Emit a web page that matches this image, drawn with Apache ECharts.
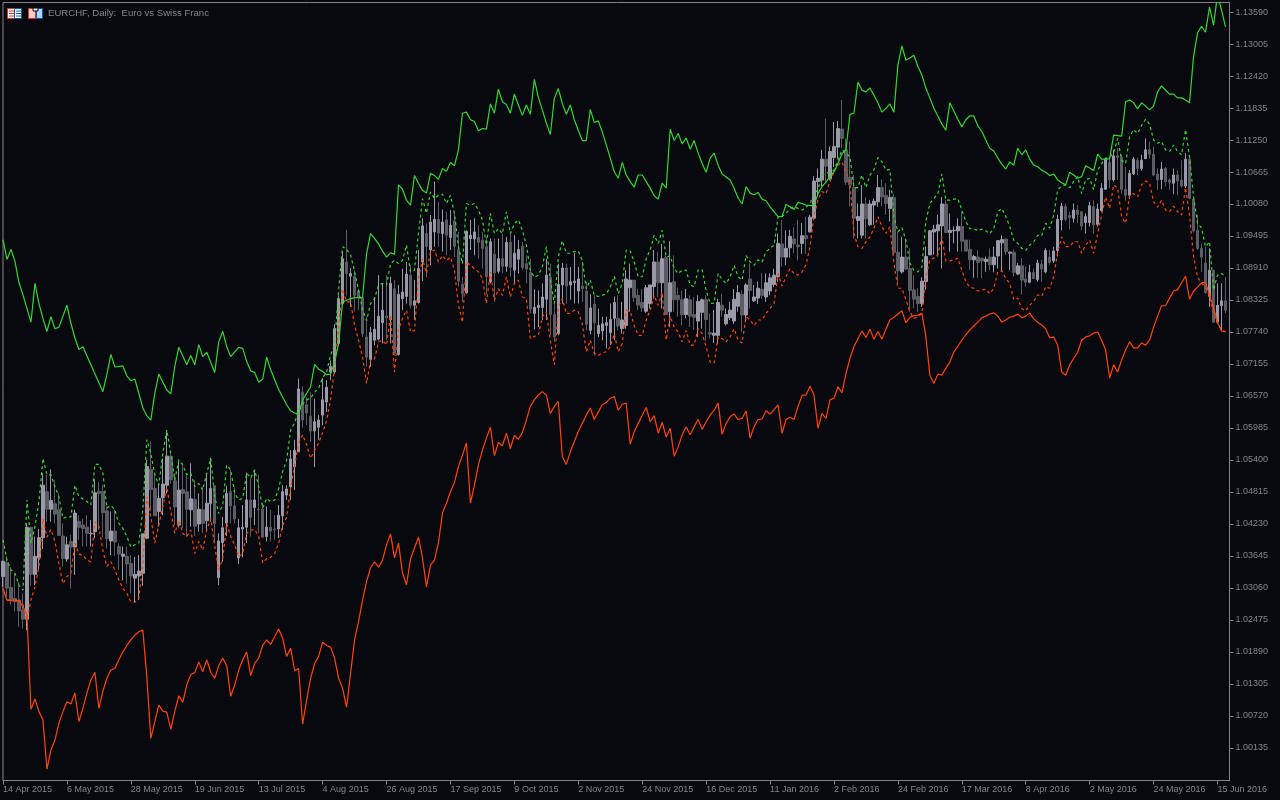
<!DOCTYPE html>
<html lang="en">
<head>
<meta charset="UTF-8">
<title>EURCHF, Daily</title>
<script src="https://cdn.jsdelivr.net/npm/echarts@6/dist/echarts.min.js"></script>
<style>html,body{margin:0;background:#08090f}</style>
</head>
<body>
<div id="container" style="width:1280px;height:800px"></div>
<script type="text/javascript">
// all prices in 1/10000 of a franc, bar by bar
const dateTicks = ['14 Apr 2015','6 May 2015','28 May 2015','19 Jun 2015','13 Jul 2015','4 Aug 2015','26 Aug 2015','17 Sep 2015','9 Oct 2015','2 Nov 2015','24 Nov 2015','16 Dec 2015','11 Jan 2016','2 Feb 2016','24 Feb 2016','17 Mar 2016','8 Apr 2016','2 May 2016','24 May 2016','15 Jun 2016'];
const priceTicks = [1.1359,1.13005,1.1242,1.11835,1.1125,1.10665,1.1008,1.09495,1.0891,1.08325,1.0774,1.07155,1.0657,1.05985,1.054,1.04815,1.0423,1.03645,1.0306,1.02475,1.0189,1.01305,1.0072,1.00135];

// open, close, low, high
const ohlc = [
[10327,10355,10308,10355],[10353,10306,10290,10364],[10307,10284,10275,10344],[10287,10281,10263,10333],[10284,10264,10235,10317],[10266,10249,10232,10296],[10249,10417,10229,10424],[10417,10331,10310,10418],[10331,10364,10311,10400],[10361,10398,10339,10414],
[10398,10494,10377,10516],[10482,10450,10427,10513],[10450,10466,10427,10523],[10460,10441,10424,10504],[10449,10402,10401,10479],[10401,10360,10345,10424],[10359,10385,10354,10400],[10391,10381,10305,10403],[10381,10443,10330,10449],[10428,10417,10394,10439],
[10421,10415,10382,10433],[10417,10406,10382,10439],[10405,10406,10382,10430],[10409,10480,10397,10505],[10483,10479,10412,10500],[10482,10444,10399,10494],[10447,10396,10378,10455],[10392,10410,10366,10446],[10410,10390,10365,10449],[10382,10368,10339,10388],
[10364,10368,10320,10382],[10364,10350,10314,10382],[10351,10328,10296,10366],[10324,10331,10280,10363],[10328,10337,10284,10366],[10333,10405,10310,10405],[10397,10528,10395,10540],[10523,10486,10446,10574],[10488,10438,10438,10516],[10446,10470,10418,10497],
[10471,10496,10439,10543],[10494,10547,10479,10592],[10547,10504,10497,10552],[10502,10454,10421,10516],[10421,10485,10417,10541],[10486,10479,10415,10534],[10482,10450,10399,10516],[10449,10469,10418,10534],[10468,10419,10401,10504],[10423,10450,10409,10479],
[10449,10424,10406,10491],[10429,10461,10412,10516],[10460,10488,10427,10544],[10493,10424,10388,10494],[10325,10392,10311,10406],[10389,10416,10354,10436],[10425,10479,10401,10493],[10482,10456,10424,10522],[10456,10432,10424,10491],[10361,10416,10350,10432],
[10414,10417,10362,10458],[10417,10467,10388,10517],[10467,10435,10400,10507],[10453,10467,10421,10522],[10450,10449,10406,10513],[10450,10399,10397,10461],[10400,10417,10391,10455],[10417,10410,10391,10449],[10414,10413,10394,10439],[10414,10439,10397,10458],
[10438,10482,10412,10494],[10476,10487,10467,10494],[10491,10542,10467,10558],[10528,10558,10485,10577],[10555,10670,10555,10689],[10664,10613,10599,10675],[10641,10626,10604,10655],[10620,10593,10573,10664],[10593,10610,10527,10652],[10600,10613,10577,10622],
[10622,10650,10604,10690],[10646,10673,10628,10686],[10701,10711,10686,10722],[10701,10780,10698,10788],[10753,10835,10750,10841],[10826,10908,10823,10921],[10902,10881,10841,10961],[10876,10881,10820,10891],[10876,10841,10811,10887],[10849,10838,10814,10853],
[10837,10771,10765,10838],[10765,10728,10710,10802],[10724,10773,10710,10783],[10759,10779,10750,10838],[10761,10803,10759,10878],[10791,10814,10753,10863],[10803,10800,10759,10878],[10796,10863,10753,10875],[10853,10735,10731,10869],[10733,10843,10731,10860],
[10835,10847,10814,10890],[10839,10880,10826,10902],[10878,10823,10817,10896],[10823,10831,10796,10869],[10828,10890,10826,10924],[10902,10968,10867,10982],[10954,10930,10874,10972],[10924,10975,10896,10988],[10957,10980,10930,11049],[10980,10955,10930,11012],
[10954,10975,10921,10998],[10979,10951,10914,10994],[10947,10969,10924,10997],[10977,10931,10911,10994],[10925,10867,10857,10957],[10861,10844,10829,10875],[10846,10958,10844,10960],[10945,10951,10924,10979],[10944,10957,10914,10982],[10947,10938,10908,10969],
[10942,10927,10890,10957],[10930,10875,10844,10948],[10866,10939,10863,10945],[10916,10882,10829,10945],[10885,10908,10881,10945],[10908,10894,10881,10954],[10894,10938,10884,10948],[10938,10892,10875,10954],[10887,10918,10863,10951],[10907,10925,10881,10942],
[10931,10892,10887,10939],[10899,10889,10863,10914],[10883,10816,10808,10908],[10808,10819,10779,10852],[10819,10823,10783,10850],[10819,10838,10796,10863],[10834,10878,10796,10908],[10874,10806,10768,10899],[10806,10765,10756,10826],[10771,10861,10768,10899],
[10860,10891,10826,10900],[10891,10858,10826,10899],[10860,10866,10833,10893],[10864,10867,10826,10918],[10849,10871,10826,10893],[10858,10853,10829,10902],[10849,10788,10777,10866],[10777,10818,10770,10843],[10825,10791,10731,10841],[10771,10786,10765,10817],
[10776,10789,10759,10802],[10786,10791,10744,10802],[10773,10797,10750,10826],[10799,10828,10759,10839],[10799,10785,10777,10841],[10780,10796,10771,10829],[10786,10871,10780,10887],[10855,10869,10811,10899],[10869,10837,10829,10869],[10841,10823,10814,10853],
[10828,10818,10811,10853],[10812,10855,10809,10860],[10826,10860,10817,10860],[10857,10902,10835,10924],[10902,10864,10838,10921],[10864,10908,10817,10935],[10910,10806,10805,10914],[10811,10864,10783,10940],[10866,10833,10811,10914],[10841,10833,10802,10855],
[10833,10806,10786,10850],[10806,10835,10799,10853],[10833,10803,10783,10841],[10806,10801,10778,10838],[10794,10830,10765,10841],[10810,10833,10780,10835],[10833,10797,10758,10841],[10773,10770,10762,10808],[10768,10772,10754,10814],[10768,10828,10753,10835],
[10823,10814,10802,10844],[10789,10806,10786,10817],[10800,10814,10796,10829],[10794,10834,10789,10853],[10821,10846,10811,10860],[10843,10805,10774,10850],[10805,10860,10792,10863],[10871,10850,10817,10899],[10831,10838,10829,10860],[10836,10854,10825,10866],
[10852,10841,10835,10882],[10838,10864,10829,10881],[10849,10873,10841,10881],[10861,10878,10856,10890],[10875,10936,10866,10954],[10935,10911,10893,10979],[10911,10927,10896,10960],[10928,10949,10910,10961],[10944,10935,10918,10966],[10933,10930,10905,10979],
[10936,10950,10917,10973],[10950,10945,10917,10985],[10957,10984,10956,10988],[10982,11050,10979,11059],[11049,11055,11024,11073],[11052,11090,11041,11107],[11090,11077,11046,11164],[11054,11104,11052,11113],[11093,11113,11076,11158],[11112,11146,11091,11160],
[11145,11128,11110,11198],[11107,11048,11043,11128],[11057,11043,11003,11122],[11038,10982,10945,11061],[10978,10985,10945,11009],[10951,11008,10945,11043],[11008,10981,10945,11020],[10970,11008,10968,11015],[11006,11013,10970,11018],[11012,11038,11003,11061],
[11038,11021,11004,11053],[11024,11009,10988,11046],[11000,11020,10976,11034],[11020,10919,10915,11026],[10920,10886,10864,10957],[10884,10911,10881,10948],[10911,10889,10887,10945],[10890,10850,10811,10927],[10851,10834,10817,10878],[10839,10826,10811,10854],
[10826,10867,10820,10874],[10866,10912,10851,10930],[10915,10959,10915,10960],[10957,10962,10915,10970],[10959,10970,10912,10988],[10968,11008,10890,11021],[11008,10956,10956,11015],[10956,10960,10921,10991],[10959,10960,10936,10967],[10959,10967,10921,10982],
[10967,10940,10921,10994],[10942,10922,10921,10942],[10925,10906,10887,10943],[10906,10912,10873,10915],[10911,10901,10873,10924],[10909,10904,10872,10909],[10903,10907,10884,10912],[10911,10897,10887,10927],[10897,10911,10883,10930],[10913,10941,10890,10942],
[10937,10943,10884,10951],[10944,10921,10915,10945],[10918,10920,10887,10921],[10920,10883,10875,10925],[10880,10895,10878,10900],[10895,10869,10842,10909],[10871,10865,10857,10894],[10865,10883,10863,10897],[10883,10872,10871,10890],[10870,10900,10866,10906],
[10898,10889,10866,10906],[10884,10923,10881,10927],[10911,10901,10897,10924],[10904,10922,10900,10930],[10923,10980,10912,10988],[10979,11004,10960,11010],[11004,10980,10976,11009],[10987,10983,10962,10994],[10982,10997,10974,11009],[10997,10989,10973,11006],
[10994,10968,10960,10994],[10974,10985,10954,10991],[10974,11005,10967,11012],[11003,10970,10954,11015],[10971,10999,10967,11009],[10996,11037,10994,11046],[11035,11090,11034,11093],[11084,11052,11037,11091],[11052,11096,11049,11107],[11096,11093,11052,11110],
[11094,11035,11027,11098],[11035,11024,11014,11076],[11024,11064,11017,11070],[11063,11090,11061,11094],[11088,11073,11061,11093],[11073,11088,11069,11098],[11091,11107,11090,11128],[11107,11099,11091,11122],[11099,11061,11059,11113],[11063,11052,11034,11073],
[11053,11072,11035,11085],[11073,11049,11040,11076],[11052,11048,11034,11055],[11046,11061,11026,11073],[11061,11050,11024,11070],[11052,11041,11038,11088],[11041,11090,11037,11101],[11090,11018,11017,11098],[11017,10959,10956,11018],[10960,10927,10924,10988],
[10927,10911,10884,10936],[10900,10846,10844,10930],[10839,10887,10820,10927],[10887,10792,10790,10887],[10792,10823,10790,10863],[10822,10831,10777,10863],[10831,10814,10808,10875]
];

// solid green band, [bar, price]
const greenLine = [
[0,10943],[1,10907],[2,10925],[3,10903],[4,10864],[5,10842],[7,10792],[8,10863],[9,10826],[10,10799],[11,10775],[12,10802],[13,10780],[14,10783],[16,10823],[17,10790],[18,10763],[19,10742],[20,10747],[22,10714],[25,10665],[26,10696],[27,10733],[28,10710],[30,10712],[31,10694],[32,10685],[33,10688],[34,10662],[35,10635],[36,10621],[37,10613],[38,10662],[39,10697],[41,10668],[42,10661],[43,10711],[44,10746],[46,10714],[47,10731],[48,10714],[49,10751],[50,10729],[51,10737],[53,10700],[54,10756],[55,10775],[56,10747],[57,10729],[59,10746],[60,10744],[61,10720],[62,10703],[63,10700],[64,10682],[65,10688],[66,10728],[67,10705],[69,10669],[71,10641],[72,10630],[73,10626],[74,10624],[75,10650],[76,10662],[77,10674],[78,10715],[79,10706],
[80,10702],[81,10696],[82,10697],[83,10719],[84,10753],[85,10829],[86,10832],[87,10835],[88,10837],[89,10837],[90,10837],[91,10917],[92,10954],[93,10945],[94,10935],[95,10922],[96,10911],[97,10919],[98,10916],[99,11043],[100,11035],[101,11015],[102,11006],[103,11060],[104,11046],[105,11033],[106,11028],[107,11064],[108,11060],[109,11053],
[110,11073],[111,11068],[112,11084],[113,11078],[114,11107],[115,11174],[116,11176],[117,11162],[118,11159],[119,11142],[120,11146],[121,11145],[122,11191],[123,11174],[124,11218],[125,11195],[126,11190],[127,11174],[128,11209],[129,11189],[130,11170],[131,11189],[132,11172],[133,11236],[134,11203],[135,11180],[136,11156],[137,11135],[138,11201],[139,11219],[140,11192],[141,11172],[142,11189],[143,11162],[144,11143],[145,11124],[146,11124],[147,11181],[148,11157],[149,11160],
[150,11140],[151,11116],[152,11092],[153,11067],[154,11055],[155,11084],[156,11061],[157,11049],[158,11039],[159,11061],[160,11061],[161,11049],[162,11037],[163,11023],[164,11017],[165,11046],[166,11037],[167,11145],[168,11124],[169,11137],[170,11118],[171,11129],[172,11108],[173,11124],[174,11101],[175,11082],[176,11066],[177,11092],[178,11101],[179,11079],[180,11063],[182,11052],[183,11037],[184,11019],[185,11008],[186,11040],[187,11028],[188,11025],[189,11029],[190,11017],[191,11014],[192,11003],[193,10994],[194,10985],[195,10985],
[196,11007],[197,11003],[198,10998],[199,11011],[200,11009],[201,11006],[202,11005],[203,11005],[204,11027],[205,11040],[206,11048],[207,11058],[208,11067],[209,11082],[210,11100],[211,11107],[212,11172],[213,11174],[214,11231],[215,11216],[216,11213],[217,11220],[218,11207],[219,11193],[220,11176],[221,11183],[222,11191],[223,11176],[224,11262],[225,11297],[226,11271],[227,11275],[228,11280],[229,11260],[230,11244],[231,11220],[232,11202],[233,11183],[234,11169],[235,11154],[236,11143],[237,11193],[238,11178],[239,11163],[240,11149],[241,11162],[242,11169],[243,11169],[244,11151],[245,11141],[246,11125],[247,11110],[248,11105],[249,11092],[250,11081],[251,11072],[252,11085],[253,11079],[254,11110],[255,11098],[256,11107],[257,11090],[258,11079],[259,11076],
[260,11070],[261,11066],[262,11060],[263,11063],[264,11052],[265,11047],[266,11043],[267,11066],[268,11061],[269,11055],[270,11058],[271,11078],[272,11074],[273,11069],[274,11099],[275,11090],[276,11090],[277,11091],[278,11134],[279,11133],[280,11132],[281,11195],[282,11198],[283,11193],[284,11182],[285,11193],[286,11187],[287,11180],[288,11187],[289,11213],[290,11224],[291,11216],[292,11209],[293,11209],[294,11202],[295,11202],[296,11198],[297,11193],[298,11277],[299,11321],[300,11333],[301,11322],[302,11368],[303,11335],[304,11390],[305,11363],[306,11332]
];

// solid red band, one value per bar
const redLine = [
10305,10284,10283,10283,10283,10272,10257,10084,10103,10080,10065,9975,10010,10028,10059,10080,10098,10094,10114,10062,10086,10114,10138,10152,10086,10117,10141,10156,10159,10175,
10189,10201,10211,10220,10226,10229,10144,10031,10062,10092,10081,10079,10048,10080,10109,10097,10129,10148,10151,10171,10153,10175,10152,10141,10164,10178,10164,10108,10129,10156,
10175,10189,10146,10168,10178,10201,10211,10203,10217,10231,10214,10181,10196,10155,10159,10057,10101,10141,10168,10181,10207,10201,10198,10178,10141,10123,10088,10150,10211,10245,
10284,10318,10343,10354,10344,10357,10385,10405,10361,10388,10333,10312,10359,10379,10399,10361,10308,10348,10357,10389,10443,10461,10482,10499,10528,10549,10571,10461,10494,10531,
10558,10580,10600,10548,10572,10566,10589,10561,10585,10578,10590,10613,10638,10650,10659,10665,10659,10625,10638,10647,10546,10532,10555,10574,10592,10607,10622,10635,10614,10628,
10641,10645,10653,10656,10631,10642,10644,10569,10592,10607,10622,10636,10610,10621,10589,10609,10582,10598,10547,10564,10586,10601,10586,10601,10614,10596,10610,10622,10631,10644,
10587,10607,10619,10624,10614,10616,10630,10580,10601,10614,10615,10630,10624,10632,10641,10589,10614,10618,10614,10638,10658,10659,10675,10659,10598,10625,10616,10650,10653,10674,
10663,10698,10726,10747,10762,10776,10764,10779,10761,10775,10761,10779,10796,10801,10807,10813,10791,10801,10804,10805,10808,10766,10695,10680,10697,10695,10708,10719,10737,10748,
10759,10769,10778,10785,10792,10800,10803,10807,10809,10803,10792,10796,10801,10803,10807,10800,10803,10809,10798,10792,10787,10780,10763,10765,10750,10701,10695,10714,10726,10737,
10759,10765,10767,10772,10774,10759,10741,10690,10714,10701,10723,10741,10756,10745,10745,10754,10750,10759,10783,10803,10822,10822,10836,10849,10851,10864,10876,10834,10849,10856,
10864,10865,10842,10818,10792,10776,10774
];

// dashed envelope above the candles, one value per bar
const upperBand = [
10394,10357,10339,10333,10311,10302,10467,10388,10418,10464,10543,10513,10513,10491,10473,10433,10436,10436,10494,10473,10469,10464,10458,10532,10532,10516,10452,10457,10449,10424,
10415,10400,10381,10385,10388,10449,10577,10552,10513,10494,10552,10595,10552,10503,10540,10531,10513,10516,10491,10497,10485,10516,10543,10473,10442,10458,10531,10522,10479,10467,
10470,10516,10507,10522,10491,10452,10470,10464,10467,10488,10519,10540,10595,10608,10631,10642,10650,10653,10664,10671,10690,10701,10732,10750,10850,10930,10925,10915,10885,10850,
10815,10795,10826,10835,10860,10863,10860,10899,10905,10899,10905,10933,10884,10887,10954,11018,10991,11030,11018,11024,11026,11009,11024,10991,10930,10899,11009,11006,11009,10997,
10979,10933,10991,10954,10963,10954,10994,10954,10972,10979,10960,10933,10887,10874,10878,10893,10930,10869,10826,10911,10941,10918,10918,10921,10922,10905,10853,10869,10841,10839,
10841,10844,10856,10876,10844,10863,10924,10922,10902,10875,10875,10908,10924,10951,10936,10960,10911,10913,10890,10881,10887,10887,10860,10857,10887,10888,10850,10826,10827,10881,
10870,10863,10875,10896,10875,10869,10914,10902,10896,10906,10902,10921,10927,10933,10985,10985,10991,11000,11003,11000,10997,11002,11009,11027,11034,11061,11064,11067,11070,11088,
11107,11101,11094,11038,11038,11061,11038,11061,11071,11093,11085,11070,11071,10985,10957,10965,10942,10900,10887,10884,10893,10976,11009,11018,11027,11063,11015,11015,11017,11018,
10997,10976,10963,10963,10959,10962,10959,10954,10963,10994,11000,10985,10967,10942,10936,10927,10923,10933,10939,10951,10950,10973,10964,10988,11034,11041,11043,11038,11049,11058,
11027,11052,11055,11034,11070,11082,11091,11094,11101,11128,11088,11082,11131,11144,11137,11152,11163,11154,11125,11119,11122,11107,11104,11116,11104,11098,11144,11094,11021,10973,
10964,10930,10939,10851,10878,10881,10875
];

// dashed envelope below the candles, one value per bar
const lowerBand = [
10305,10284,10284,10284,10284,10275,10247,10284,10308,10345,10433,10399,10413,10391,10351,10314,10327,10333,10388,10368,10366,10357,10354,10427,10418,10375,10345,10354,10339,10321,
10305,10296,10281,10280,10287,10351,10473,10436,10388,10421,10455,10491,10446,10406,10430,10406,10400,10412,10369,10391,10375,10412,10433,10382,10339,10360,10424,10400,10385,10363,
10369,10406,10412,10413,10400,10352,10360,10362,10369,10388,10421,10435,10488,10531,10571,10586,10568,10543,10558,10571,10590,10612,10650,10710,10783,10853,10829,10829,10786,10759,
10728,10680,10722,10725,10756,10759,10750,10805,10701,10777,10799,10814,10774,10777,10872,10908,10881,10921,10924,10902,10914,10905,10911,10887,10823,10792,10902,10896,10890,10884,
10872,10826,10884,10832,10853,10841,10875,10838,10863,10869,10838,10835,10762,10766,10768,10802,10811,10759,10714,10820,10835,10808,10808,10814,10811,10789,10738,10759,10735,10731,
10736,10738,10747,10771,10738,10753,10814,10811,10786,10768,10768,10796,10814,10841,10823,10847,10759,10802,10783,10774,10756,10777,10750,10750,10780,10771,10747,10719,10717,10765,
10762,10756,10765,10780,10759,10754,10802,10796,10786,10796,10796,10808,10817,10826,10881,10858,10875,10890,10881,10878,10884,10897,10930,10988,11015,11031,11027,11049,11067,11079,
11085,11067,11046,10954,10930,10927,10939,10948,10964,10985,10967,10954,10967,10900,10854,10854,10833,10811,10799,10802,10808,10875,10906,10909,10915,10948,10904,10904,10906,10909,
10887,10866,10856,10854,10849,10851,10852,10844,10854,10884,10886,10872,10863,10833,10836,10817,10813,10823,10830,10842,10839,10857,10854,10875,10921,10948,10930,10930,10939,10939,
10918,10933,10942,10918,10954,10988,11021,11000,11043,11037,10985,10973,11024,11027,11021,11043,11050,11046,11012,11002,11015,10997,10994,11004,10994,10988,11038,10988,10912,10875,
10863,10857,10839,10808,10790,10777,10775
];

const gray = '#84848c';
const lightCandle = '#9a9aa8';
const darkCandle = '#5c5c64';
const green = '#34d634';
const red = '#ff4500';
const toPrice = v => v / 10000;

// one empty slot after the last bar, the frame ends there
const categories = [];
for (let i = 0; i <= ohlc.length; i++) {
    categories.push(i % 16 === 0 && dateTicks[i / 16] ? dateTicks[i / 16] : '');
}
const everySixteenth = index => index % 16 === 0 && index < 320;

let myChart = echarts.init(document.getElementById('container'), null, {renderer: 'canvas'});
let option = {
    animation: false,
    backgroundColor: '#08090f',
    textStyle: {fontFamily: 'Liberation Sans'},
    grid: {show: true, left: 2.5, right: 50.5, top: 2.5, bottom: 19.5, borderColor: gray, borderWidth: 1, backgroundColor: 'transparent'},
    xAxis: {
        type: 'category',
        data: categories,
        boundaryGap: false,
        axisLine: {lineStyle: {color: gray}},
        axisTick: {length: 4, interval: everySixteenth, lineStyle: {color: gray}},
        axisLabel: {interval: everySixteenth, align: 'left', margin: 5, color: gray, fontSize: 9, fontFamily: 'Liberation Sans'},
        splitLine: {show: false}
    },
    yAxis: {
        type: 'value',
        position: 'right',
        min: 0.99541,
        max: 1.13764,
        scale: true,
        axisLine: {show: true, lineStyle: {color: gray}},
        axisTick: {show: true, length: 4, customValues: priceTicks, lineStyle: {color: gray}},
        axisLabel: {customValues: priceTicks, margin: 6, color: gray, fontSize: 9, fontFamily: 'Liberation Sans', formatter: v => v.toFixed(5)},
        splitLine: {show: false}
    },
    series: [
        {
            type: 'candlestick',
            barWidth: 3,
            data: ohlc.map(row => row.map(toPrice)),
            itemStyle: {color: lightCandle, color0: darkCandle, borderColor: lightCandle, borderColor0: darkCandle, borderColorDoji: lightCandle, borderWidth: 1}
        },
        {type: 'line', symbol: 'none', data: upperBand.map(toPrice), lineStyle: {color: green, width: 1.2, type: [3, 3]}},
        {type: 'line', symbol: 'none', data: lowerBand.map(toPrice), lineStyle: {color: red, width: 1.2, type: [3, 3]}},
        {type: 'line', symbol: 'none', data: greenLine.map(p => [p[0], toPrice(p[1])]), lineStyle: {color: green, width: 1.2}},
        {type: 'line', symbol: 'none', data: redLine.map(toPrice), lineStyle: {color: red, width: 1.2}}
    ],
    graphic: [
        // the two little toolbar icons in the corner
        {type: 'rect', shape: {x: 7.5, y: 8.5, width: 7, height: 10}, style: {fill: '#fff', stroke: '#e03020'}},
        {type: 'rect', shape: {x: 14.5, y: 8.5, width: 7, height: 10}, style: {fill: '#fff', stroke: '#0858a8'}},
        {type: 'rect', shape: {x: 9, y: 10.5, width: 5, height: 1}, style: {fill: '#e03020'}},
        {type: 'rect', shape: {x: 9, y: 13, width: 5, height: 1}, style: {fill: '#e03020'}},
        {type: 'rect', shape: {x: 9, y: 15.5, width: 5, height: 1}, style: {fill: '#e03020'}},
        {type: 'rect', shape: {x: 16, y: 10.5, width: 5, height: 1}, style: {fill: '#0858a8'}},
        {type: 'rect', shape: {x: 16, y: 13, width: 5, height: 1}, style: {fill: '#0858a8'}},
        {type: 'rect', shape: {x: 16, y: 15.5, width: 5, height: 1}, style: {fill: '#0858a8'}},
        {type: 'rect', shape: {x: 28.5, y: 8.5, width: 7, height: 10}, style: {fill: '#ffd0c8', stroke: '#e03020'}},
        {type: 'rect', shape: {x: 36.5, y: 8.5, width: 6, height: 10}, style: {fill: '#a8d8f8', stroke: '#0858a8'}},
        {type: 'rect', shape: {x: 33, y: 8, width: 5, height: 3}, style: {fill: '#e8e8e8', stroke: '#08090f'}},
        {type: 'text', x: 48, y: 8, style: {text: 'EURCHF, Daily:  Euro vs Swiss Franc', fill: gray, font: '9.6px "Liberation Sans"'}}
    ]
};
myChart.setOption(option, true);
</script>
</body>
</html>
